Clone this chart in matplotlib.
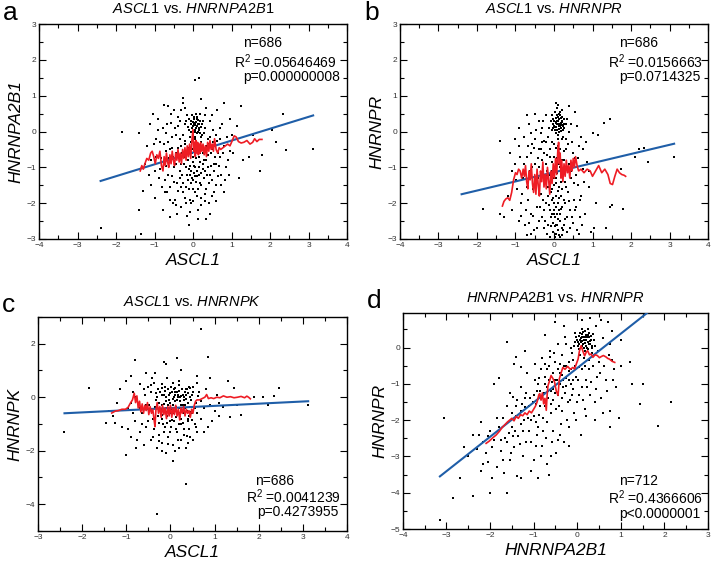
import matplotlib
matplotlib.use("Agg")
import matplotlib.pyplot as plt
import numpy as np
from matplotlib.ticker import MultipleLocator

plt.rcParams['font.family'] = ['Liberation Sans', 'DejaVu Sans']
plt.rcParams['mathtext.fontset'] = 'custom'
plt.rcParams['mathtext.rm'] = 'Liberation Sans'
plt.rcParams['mathtext.it'] = 'Liberation Sans:italic'

# ---- panel a : ASCL1 vs HNRNPA2B1 ----
pts_a = [(-2.4,-2.7),(-1.85,0.0),(-1.4,-0.05),(-1.4,-2.2),(-1.3,-1.65),(-1.35,-2.85),(1.25,0.7),(2.35,0.5),
         (2.15,-0.3),(2.42,-0.52),(3.12,-0.5),(1.45,-0.7),(1.75,-1.1),(1.8,-0.65),(1.55,-0.1),(2.05,0.05),
         (0.8,0.8),(0.2,0.9),(0.05,1.45),(0.15,1.5),(-0.25,0.95),(-0.65,0.72),(-0.75,0.75),(-0.1,-2.6),
         (-1.05,0.5),(-0.95,-0.7),(-1.0,-1.85),(-1.1,-1.5),(-0.9,0.35),(-0.85,-0.3),(-0.8,-1.55),(-0.78,-2.2),
         (-0.72,-1.7),(-0.7,-0.05),(-0.68,0.2),(-0.65,-1.2),(-0.6,-1.9),(-0.58,0.5),(-0.55,-0.45),(-0.52,-2.0),
         (-0.5,-1.4),(-0.48,0.1),(-0.45,-0.9),(-0.42,-2.3),(-0.4,0.4),(-0.38,-1.65),(-0.35,-0.2),(-0.33,-1.1),
         (-0.3,0.6),(-0.3,-2.1),(-0.28,-0.6),(-0.25,-1.45),(-0.22,0.2),(-0.2,-1.85),(-0.2,-0.35),(-0.18,-1.0),
         (-0.15,0.45),(-0.15,-2.35),(-0.12,-0.8),(-0.1,-1.6),(-0.1,0.05),(-0.08,-1.2),(-0.05,0.3),(-0.05,-2.0),
         (-0.03,-0.5),(0.0,0.15),(0.0,-1.35),(0.02,0.4),(0.03,-0.95),(0.05,0.25),(0.05,-1.7),(0.07,0.1),
         (0.08,-0.3),(0.1,0.35),(0.1,-1.1),(0.12,0.0),(0.13,-2.2),(0.15,0.2),(0.15,-0.7),(0.17,-1.45),
         (0.18,0.5),(0.2,-0.15),(0.22,-1.85),(0.25,0.3),(0.25,-0.9),(0.28,-1.3),(0.3,0.1),(0.3,-0.5),
         (0.33,-1.6),(0.35,0.65),(0.38,-0.2),(0.4,-1.0),(0.42,-2.0),(0.45,0.3),(0.48,-0.6),(0.5,-1.35),
         (0.52,0.05),(0.55,-1.7),(0.58,-0.35),(0.6,-0.9),(0.62,0.6),(0.65,-1.25),(0.7,-0.7),(0.72,-1.5),
         (0.75,0.2),(0.8,-0.4),(0.85,-1.0),(0.9,-0.8),(0.95,-0.55),(1.0,-0.1),(1.05,-0.6),(1.15,0.15),
         (1.2,-1.3),(1.3,-0.8),(-1.2,-0.4),(-1.25,-0.9),(-1.15,-1.2),(-0.95,-0.2),(-0.85,-1.05),(-0.62,-0.75),
         (-0.4,-0.45),(-0.25,0.8),(0.45,-2.3),(0.35,-2.45),
         (-0.05,0.0),(0.0,-0.1),(0.05,-0.2),(0.1,0.15),(0.08,0.28),(0.02,0.2),(-0.02,0.1),(0.12,0.22),
         (0.15,0.05),(0.18,0.3),(0.03,0.35),(0.06,0.18),(0.1,-0.05),(-0.08,-0.15),(-0.12,0.12),(0.2,0.12),
         (0.04,-0.4),(-0.03,-0.6),(0.08,-0.75),(0.13,-0.55),(-0.1,-0.45),(0.0,-0.85),(0.05,-1.0),(-0.05,-1.1),
         (0.1,-1.25),(0.02,-1.15),(-0.07,-0.95),(0.15,-1.0),(0.18,-0.85),(-0.15,-1.2),(-0.02,-1.3),(0.07,-1.4),
         (0.12,-1.6),(-0.12,-1.35),(0.2,-1.15),(-0.2,-0.7),(-0.25,-0.1),(-0.18,0.3),(0.22,-0.3),(0.25,-0.6),
         (-0.3,-0.9),(-0.35,-1.3),(0.3,-1.1),(0.28,-0.05),(-0.4,0.15),(-0.45,-0.6),(0.35,-0.8),(0.4,-0.35),
         (-0.5,-1.0),(-0.55,-0.15),(0.45,-1.2),(0.5,-0.5),(-0.6,-0.5),(0.55,-0.9),(-0.7,-0.95),(0.6,-0.1),
         (-0.75,-0.35),(0.65,-0.6),
         (-0.02,0.45),(0.06,0.05),(0.11,0.42),(0.16,0.1),(0.19,-0.05),(0.01,0.28),(-0.06,0.2),(0.09,0.5),
         (0.14,0.33),(0.23,0.2),(-0.1,0.35),(0.04,0.0),(-0.35,0.3),(-0.32,-0.4),(-0.28,-1.2),(-0.26,-1.7),
         (-0.23,-0.9),(-0.21,-0.25),(-0.17,-1.55),(-0.14,-0.55),(-0.11,-1.05),(-0.09,-1.9),(-0.06,-0.3),(-0.04,-1.45),
         (-0.01,-0.7),(0.01,-1.6),(0.04,-0.15),(0.06,-1.25),(0.09,-0.55),(0.11,-1.8),(0.14,-0.35),(0.16,-1.2),
         (0.19,-0.6),(0.21,-1.5),(0.24,-0.1),(0.26,-1.05),(0.29,-0.8),(0.31,-1.75),(0.34,-0.4),(0.36,-1.2),
         (0.39,-0.65),(0.41,-1.45),(0.44,-0.15),(0.46,-0.95),(0.49,-1.8),(0.51,-0.3),(0.54,-1.1),(0.57,-0.7),
         (0.59,-1.5),(0.63,-0.25),(0.67,-0.95),(0.69,0.1),(0.73,-1.2),(0.78,-0.6),(0.82,-1.35),(0.88,-0.15),
         (0.93,-1.2),(0.97,0.35),(-0.37,-0.7),(-0.41,-1.45),(-0.44,-0.1),(-0.47,-1.9),(-0.51,-0.7),(-0.54,-1.25),
         (-0.57,0.25),(-0.61,-1.55),(-0.64,-0.3),(-0.67,-1.7),(-0.71,-0.55),(-0.74,-1.35),(-0.77,0.1),(-0.82,-0.75),
         (-0.88,-1.3),(-0.92,0.05),(-0.98,-1.1),(-1.02,-0.35),(-1.08,-0.8),(-1.12,0.2),(-0.3,-1.55),(-0.18,-2.0),
         (0.0,-1.95),(0.2,-2.05),(-0.08,-2.25),(0.3,-1.95),(-0.6,-2.4),(0.6,-1.95),(-0.45,-2.05),(0.14,-2.45),
         (-0.2,0.65),(0.3,0.45),(0.5,0.45),(-0.5,0.6),(0.7,-0.2),(0.8,-1.7)]
red_a = [(-1.37,-1.1),(-1.33,-0.95),(-1.29,-1.05),(-1.25,-0.9),(-1.2,-0.75),(-1.15,-0.8),(-1.1,-0.6),(-1.06,-0.55),
         (-1.02,-0.7),(-0.98,-0.9),(-0.94,-0.65),(-0.9,-0.75),(-0.86,-0.55),(-0.82,-0.95),(-0.78,-1.1),(-0.75,-0.7),
         (-0.72,-0.95),(-0.69,-0.6),(-0.66,-0.85),(-0.63,-1.0),(-0.6,-0.65),(-0.57,-0.9),(-0.54,-0.55),(-0.51,-0.8),
         (-0.48,-0.95),(-0.45,-0.6),(-0.42,-0.8),(-0.39,-0.5),(-0.36,-0.85),(-0.33,-0.6),(-0.3,-0.9),(-0.27,-0.5),
         (-0.24,-0.75),(-0.21,-0.45),(-0.18,-0.8),(-0.15,-0.4),(-0.12,-0.7),(-0.09,-0.35),(-0.06,-0.75),(-0.03,-0.25),
         (0.0,0.05),(0.02,-0.55),(0.04,-0.3),(0.06,-0.7),(0.08,-0.25),(0.1,-0.6),(0.12,-0.3),(0.14,-0.65),
         (0.16,-0.35),(0.18,-0.6),(0.2,-0.3),(0.23,-0.55),(0.26,-0.35),(0.29,-0.65),(0.32,-0.4),(0.35,-0.7),
         (0.38,-0.3),(0.41,-0.55),(0.44,-0.25),(0.47,-0.5),(0.5,-0.35),(0.53,-0.55),(0.56,-0.2),(0.6,-0.5),
         (0.64,-0.6),(0.68,-0.45),(0.72,-0.5),(0.78,-0.45),(0.84,-0.4),(0.9,-0.35),(0.96,-0.4),(1.02,-0.25),
         (1.07,-0.12),(1.12,-0.15),(1.18,-0.28),(1.25,-0.32),(1.32,-0.3),(1.4,-0.25),(1.48,-0.35),(1.55,-0.3),
         (1.6,-0.2),(1.66,-0.28),(1.72,-0.22),(1.79,-0.22)]
fit_a_x = [-2.4, 3.12]
fit_a_y = [-1.38, 0.45]

# ---- panel b : ASCL1 vs HNRNPR ----
pts_b = [(-1.4,-0.25),(-1.85,-2.15),(-1.4,-2.3),(-1.3,-2.4),(-1.1,-1.1),(-0.9,0.1),(-0.7,0.45),(-0.5,0.5),
         (0.05,0.8),(0.1,0.75),(0.4,0.7),(1.0,-0.05),(1.15,-0.1),(1.3,0.25),(1.45,0.35),(2.1,-0.7),
         (2.2,-0.5),(2.35,-0.45),(2.45,-0.85),(3.12,-0.7),(1.05,-2.7),(1.35,-2.7),(1.45,-2.1),(1.5,-2.05),
         (1.8,-2.15),(1.75,-1.05),(0.95,-2.8),(0.65,-2.85),(1.1,-2.0),(0.9,-1.1),(0.75,-1.05),(-0.85,-2.35),
         (-0.7,-2.9),(-0.6,-2.85),
         (-1.0,-0.9),(-0.95,-1.6),(-0.9,-0.4),(-0.85,-2.0),(-0.8,-1.3),(-0.78,-0.15),(-0.75,-2.6),(-0.7,-0.7),
         (-0.68,-1.9),(-0.65,0.2),(-0.62,-1.1),(-0.6,-2.3),(-0.58,-0.35),(-0.55,-1.6),(-0.52,-2.75),(-0.5,-0.9),
         (-0.48,0.05),(-0.45,-2.1),(-0.42,-1.3),(-0.4,-0.5),(-0.38,-2.5),(-0.35,-0.05),(-0.33,-1.75),(-0.3,-0.8),
         (-0.28,0.3),(-0.25,-2.2),(-0.22,-1.2),(-0.2,-0.3),(-0.18,-2.85),(-0.15,-1.55),(-0.12,0.1),(-0.1,-0.7),
         (-0.08,-2.4),(-0.05,-1.9),(-0.03,0.35),(0.0,-1.3),(0.0,0.15),(0.02,-2.65),(0.04,0.25),(0.05,-0.45),
         (0.06,-2.1),(0.08,0.05),(0.1,-1.65),(0.1,0.4),(0.12,-2.9),(0.13,-0.9),(0.15,0.2),(0.16,-2.3),
         (0.18,-1.4),(0.2,0.3),(0.2,-2.7),(0.22,-0.2),(0.25,-1.9),(0.27,0.1),(0.28,-2.45),(0.3,-1.05),
         (0.32,-0.5),(0.35,-2.8),(0.37,-1.7),(0.4,0.0),(0.42,-2.2),(0.45,-1.3),(0.48,-0.3),(0.5,-2.55),
         (0.52,-1.9),(0.55,-0.75),(0.58,-2.1),(0.6,0.15),(0.62,-1.5),(0.65,-0.4),(0.68,-2.4),(0.7,-1.8),
         (0.75,-0.5),(0.8,-2.3),(0.85,-0.85),(-1.2,-1.8),(-1.15,-0.6),(-1.1,-2.2),(0.55,0.55),(0.9,-1.55),
         (0.02,0.05),(0.05,0.12),(0.08,0.3),(0.1,0.22),(0.12,0.08),(0.14,0.35),(0.16,0.15),(0.18,0.02),
         (0.2,0.18),(0.22,0.28),(0.04,0.38),(0.06,-0.05),(0.1,-0.1),(0.15,0.45),(0.18,0.25),(-0.02,0.22),
         (-0.05,0.05),(0.0,0.3),(0.12,0.5),(0.24,0.05),(0.26,0.22),(0.03,0.55),(-0.08,0.3),(0.2,0.6),
         (0.08,0.65),
         (-0.05,-1.1),(0.0,-1.5),(0.05,-1.8),(0.1,-2.0),(-0.1,-2.2),(0.02,-2.4),(0.08,-2.6),(-0.02,-2.8),
         (0.15,-2.5),(-0.15,-2.6),(0.12,-2.2),(-0.08,-1.7),(0.05,-1.3),(0.18,-1.8),(-0.2,-2.0),(0.22,-2.1),
         (-0.12,-1.4),(0.0,-2.0),(0.07,-2.3),(-0.03,-2.55),(0.25,-2.6),(-0.25,-2.7),(0.1,-2.75),(0.03,-2.95),
         (-0.06,-2.3),(0.14,-1.55),(0.2,-2.9),(-0.18,-1.1),(0.28,-1.4),(-0.3,-2.4),
         (-0.3,-0.3),(-0.2,-0.9),(-0.1,-0.5),(0.0,-0.7),(0.1,-0.4),(0.2,-0.8),(0.3,-0.2),(-0.4,-1.0),
         (0.4,-0.9),(-0.5,-0.2),(0.5,-0.6),(-0.6,-0.6),(0.15,-1.0),(-0.05,-0.3),(0.05,-0.95),(-0.15,-0.15),
         (0.25,-0.55),(-0.25,-0.6),
         (0.01,0.12),(0.07,0.2),(0.11,0.3),(0.13,0.15),(0.17,0.38),(0.19,0.1),(0.21,0.42),(0.23,0.15),
         (0.09,0.45),(0.14,0.0),(0.05,0.28),(-0.03,0.1),(0.27,0.35),(0.3,0.2),(0.11,-0.2),(0.24,-0.15),
         (-0.06,0.45),(0.16,0.55),(-0.35,-0.5),(-0.32,-1.2),(-0.28,-1.9),(-0.26,-0.25),(-0.23,-2.5),(-0.21,-1.45),
         (-0.17,-0.65),(-0.14,-2.05),(-0.11,-1.2),(-0.09,-2.65),(-0.06,-0.85),(-0.04,-1.6),(-0.01,-2.3),(0.01,-0.35),
         (0.04,-2.85),(0.06,-1.45),(0.09,-0.75),(0.11,-2.45),(0.14,-1.85),(0.16,-0.5),(0.19,-2.15),(0.21,-1.2),
         (0.24,-2.75),(0.26,-0.8),(0.29,-2.0),(0.31,-1.55),(0.34,-2.4),(0.36,-0.35),(0.39,-1.95),(0.41,-2.7),
         (0.44,-1.1),(0.46,-2.4),(0.49,-0.6),(0.51,-1.45),(0.54,-2.2),(0.57,-1.2),(0.59,-2.75),(0.63,-0.75),
         (0.67,-1.9),(0.69,-0.15),(0.73,-2.6),(0.78,-1.4),(0.82,-0.3),(-0.37,-2.1),(-0.41,-0.75),(-0.44,-2.7),
         (-0.47,-1.45),(-0.51,-0.45),(-0.54,-2.35),(-0.57,-1.0),(-0.61,-0.05),(-0.64,-2.55),(-0.67,-0.4),(-0.71,-1.55),
         (-0.74,-2.2),(-0.77,-0.9),(-0.82,-1.75),(-0.88,-0.7),(-0.92,-2.5),(-0.98,-1.35),(-1.02,-0.2),(-0.3,0.1),
         (-0.2,0.45),(-0.4,0.3),(0.35,0.35),(0.45,0.2),(0.0,-2.2),(0.15,-2.95),(-0.1,-2.95),(0.05,-2.6),
         (-0.15,-1.8),(0.2,-1.6),(0.07,-1.15),(-0.03,-1.85)]
red_b = [(-1.34,-2.08),(-1.3,-1.95),(-1.25,-1.88),(-1.2,-1.85),(-1.15,-1.92),(-1.1,-1.7),(-1.05,-1.35),(-1.0,-1.15),
         (-0.96,-1.2),(-0.92,-1.05),(-0.88,-1.1),(-0.84,-1.3),(-0.8,-1.05),(-0.77,-1.25),(-0.74,-0.95),(-0.71,-1.4),
         (-0.68,-1.6),(-0.65,-1.1),(-0.62,-1.35),(-0.59,-0.9),(-0.56,-1.45),(-0.53,-1.7),(-0.5,-1.2),(-0.47,-1.75),
         (-0.44,-1.05),(-0.41,-1.5),(-0.38,-1.8),(-0.35,-1.1),(-0.32,-1.4),(-0.29,-0.85),(-0.26,-1.55),(-0.23,-1.2),
         (-0.2,-1.6),(-0.17,-1.0),(-0.14,-1.35),(-0.11,-1.75),(-0.08,-1.1),(-0.05,-1.45),(-0.02,-0.9),(0.01,-1.3),
         (0.04,-0.75),(0.07,-1.2),(0.1,-0.5),(0.12,-0.3),(0.14,-0.9),(0.16,-0.6),(0.18,-1.3),(0.2,-0.8),
         (0.23,-1.4),(0.26,-0.9),(0.29,-1.25),(0.32,-0.8),(0.35,-1.15),(0.38,-0.95),(0.41,-1.3),(0.44,-0.8),
         (0.47,-1.1),(0.5,-0.75),(0.53,-1.0),(0.56,-0.7),(0.6,-0.95),(0.64,-1.1),(0.7,-1.05),(0.78,-1.15),
         (0.86,-1.05),(0.94,-1.1),(1.0,-1.25),(1.08,-1.1),(1.16,-0.95),(1.24,-1.15),(1.32,-1.05),(1.4,-1.2),
         (1.46,-1.45),(1.52,-1.48),(1.58,-1.25),(1.64,-1.05),(1.7,-1.15),(1.76,-1.2),(1.82,-1.22),(1.86,-1.25)]
fit_b_x = [-2.4, 3.12]
fit_b_y = [-1.75, -0.34]

# ---- panel c : ASCL1 vs HNRNPK ----
pts_c = [(-2.4,-1.3),(-1.85,0.35),(-1.45,-0.95),(-1.0,-2.15),(-0.8,1.4),(-0.15,1.3),(-0.1,1.25),(0.15,1.45),
         (0.7,2.55),(0.85,1.5),(1.3,0.6),(1.45,0.35),(2.45,0.35),(2.35,0.05),(2.2,-0.3),(3.12,-0.28),
         (2.1,0.0),(1.9,0.0),(1.6,-0.65),(1.35,-0.75),(1.1,-0.7),(0.05,-2.4),(0.35,-3.25),(-0.3,-4.35),
         (0.6,0.8),(-0.9,0.8),
         (-1.4,-0.5),(-1.3,-0.7),(-1.2,-0.2),(-1.15,0.3),(-1.1,-1.1),(-1.0,0.6),(-0.95,-0.4),(-0.9,-1.5),
         (-0.85,0.2),(-0.8,-0.9),(-0.78,-1.9),(-0.75,-0.1),(-0.7,0.5),(-0.68,-1.3),(-0.65,-0.6),(-0.6,-1.8),
         (-0.58,0.1),(-0.55,-1.1),(-0.5,0.4),(-0.48,-0.3),(-0.45,-1.6),(-0.42,0.7),(-0.4,-0.8),(-0.38,-1.2),
         (-0.35,0.9),(-0.32,-0.1),(-0.3,-1.9),(-0.28,0.3),(-0.25,-1.4),(-0.22,-0.6),(-0.2,0.5),(-0.18,-1.7),
         (-0.15,0.1),(-0.12,-1.1),(-0.1,-0.4),(-0.08,0.7),(-0.05,-1.5),(-0.02,-0.2),(0.0,-0.9),(0.02,0.4),
         (0.05,-1.8),(0.08,-0.5),(0.1,0.2),(0.12,-1.2),(0.15,-0.1),(0.18,-1.6),(0.2,0.6),(0.22,-0.7),
         (0.25,-1.0),(0.28,0.1),(0.3,-1.4),(0.32,-0.3),(0.35,-1.9),(0.38,0.3),(0.4,-0.9),(0.42,-1.2),
         (0.45,0.0),(0.48,-0.6),(0.5,-1.6),(0.52,0.4),(0.55,-1.0),(0.58,-0.2),(0.6,-1.3),(0.65,0.2),
         (0.7,-0.8),(0.75,-0.4),(0.8,0.3),(0.85,-1.1),(0.9,-0.3),(1.0,-0.5),(1.05,0.1),(1.2,-0.35),
         (1.5,-0.3),(-1.25,-0.95),(0.1,-2.0),(-0.2,-2.0),(0.45,-1.5),(0.9,0.7),(0.25,1.0),(-0.55,0.9),
         (-0.25,-0.2),(-0.2,0.1),(-0.15,-0.5),(-0.1,0.0),(-0.05,-0.3),(0.0,0.15),(0.05,-0.6),(0.1,-0.15),
         (0.15,0.2),(0.2,-0.4),(0.25,0.05),(0.3,-0.6),(0.35,-0.05),(0.4,0.15),(0.45,-0.35),(-0.28,-0.7),
         (-0.18,-0.8),(-0.08,-0.7),(0.02,-0.45),(0.12,-0.75),(0.22,-0.15),(0.32,0.2),(0.42,-0.7),(-0.12,0.25),
         (0.07,0.3),(0.18,0.0),(-0.03,-0.1),(0.28,-0.3),(0.38,-0.5),(-0.22,-0.45),(0.0,-0.6),(0.1,0.1),
         (0.2,0.25),(-0.1,-0.55),(0.3,0.0),(0.15,-0.55),(0.05,-0.05),(-0.15,-0.25),(0.25,-0.8),(0.35,0.3),
         (0.48,0.1),(-0.05,0.3),(0.12,-0.35),(0.22,-0.6),(-0.3,0.0),(0.4,-0.2),(0.03,-0.85),(-0.2,-0.65),
         (0.5,-0.5),(0.08,0.0),
         (-0.35,-0.35),(-0.33,0.15),(-0.27,-0.95),(-0.24,0.2),(-0.19,-0.3),(-0.16,-1.0),(-0.13,0.4),(-0.11,-0.15),
         (-0.07,-0.95),(-0.04,0.1),(-0.01,-0.4),(0.01,-1.1),(0.04,0.2),(0.06,-0.3),(0.09,-0.9),(0.11,0.35),
         (0.13,-0.5),(0.16,0.1),(0.19,-1.0),(0.21,0.0),(0.23,-0.3),(0.26,0.3),(0.29,-0.95),(0.31,-0.1),
         (0.34,-0.4),(0.36,0.1),(0.39,-0.8),(0.41,0.4),(0.44,-0.55),(0.46,-0.1),(0.49,-0.85),(0.52,0.2),
         (0.55,-0.4),(0.57,-1.1),(0.6,-0.6),(0.62,0.05),(-0.4,-1.5),(-0.45,0.2),(-0.5,-0.9),(-0.55,-0.3),
         (-0.6,0.3),(-0.65,-1.0),(-0.7,-0.4),(-0.75,-1.6),(-0.8,0.0),(-0.85,-0.6),(-0.9,-0.2),(-0.95,-1.2),
         (0.15,-1.3),(0.0,-1.3),(-0.15,-1.3),(0.3,-1.2),(0.25,-1.6),(-0.05,-1.75),(0.4,-1.7),(-0.25,-1.65),
         (0.6,0.55),(0.7,-0.15),(0.75,-1.3),(0.95,-0.9),(1.1,-0.2),(-0.45,0.45),(0.2,-1.9),(-0.1,-2.1),
         (0.38,-1.45),(-0.38,0.55),(0.05,0.55),(0.2,0.45),(-0.2,0.35),(0.45,0.35)]
red_c = [(-1.33,-0.59),(-1.25,-0.52),(-1.18,-0.5),(-1.1,-0.45),(-1.02,-0.45),(-0.96,-0.38),(-0.9,-0.2),(-0.86,-0.1),
         (-0.82,0.15),(-0.79,-0.2),(-0.76,0.05),(-0.73,-0.4),(-0.7,-0.15),(-0.67,-0.55),(-0.64,-0.25),(-0.61,-0.6),
         (-0.58,-0.3),(-0.55,-0.5),(-0.52,-0.2),(-0.49,-0.65),(-0.46,-0.35),(-0.43,-0.6),(-0.4,-0.45),(-0.37,-0.85),
         (-0.35,-1.1),(-0.33,-0.5),(-0.3,-0.2),(-0.27,-0.6),(-0.24,-0.35),(-0.21,-0.75),(-0.18,-0.3),(-0.15,-0.65),
         (-0.12,-0.4),(-0.09,-0.8),(-0.06,-0.35),(-0.03,-0.7),(0.0,-0.3),(0.03,-0.75),(0.06,-0.4),(0.09,-0.65),
         (0.12,-0.3),(0.15,-0.7),(0.18,-0.45),(0.21,-0.85),(0.24,-0.4),(0.27,-0.6),(0.3,-0.35),(0.33,-0.7),
         (0.36,-0.45),(0.39,-0.6),(0.42,-0.5),(0.45,-0.75),(0.48,-0.45),(0.51,-0.6),(0.54,-0.3),(0.57,-0.15),
         (0.6,-0.1),(0.66,-0.1),(0.72,-0.05),(0.78,0.0),(0.82,0.1),(0.86,-0.05),(0.92,-0.02),(0.98,-0.05),
         (1.05,0.0),(1.12,-0.02),(1.2,0.05),(1.28,0.0),(1.36,0.02),(1.44,-0.02),(1.52,0.0),(1.6,0.03),
         (1.68,-0.02),(1.73,0.04),(1.77,0.0),(1.81,-0.06)]
fit_c_x = [-2.4, 3.12]
fit_c_y = [-0.6, -0.15]

# ---- panel d : HNRNPA2B1 vs HNRNPR ----
pts_d = [(-3.15,-4.75),(-3.05,-1.95),(-2.85,-4.15),(-2.4,-4.1),(-2.7,-3.6),(-2.6,-2.75),(2.15,-1.5),(1.85,-2.15),
         (1.45,-1.55),(1.5,-1.0),(1.25,-1.0),(1.2,-0.4),(0.95,-1.95),(0.75,-1.75),(0.75,-2.2),(1.0,0.2),
         (0.8,-0.35),(-1.6,0.15),(-1.9,-1.0),(-1.8,-0.85),(-1.4,-0.25),(-1.3,-0.55),
         (-2.2,-2.05),(-2.15,-2.6),(-2.1,-2.9),(-2.05,-3.15),(-2.0,-2.3),(-1.95,-3.6),(-1.9,-2.55),(-1.85,-3.3),
         (-1.8,-2.2),(-1.75,-2.85),(-1.7,-1.95),(-1.68,-3.45),(-1.65,-2.5),(-1.6,-1.6),(-1.55,-3.1),(-1.5,-2.2),
         (-1.48,-1.35),(-1.45,-2.75),(-1.4,-1.9),(-1.38,-3.55),(-1.35,-2.45),(-1.3,-1.1),(-1.28,-2.1),(-1.25,-3.0),
         (-1.2,-1.65),(-1.18,-2.6),(-1.15,-0.7),(-1.1,-2.3),(-1.08,-1.4),(-1.05,-3.4),(-1.0,-1.9),(-0.98,-0.45),
         (-0.95,-2.7),(-0.92,-1.2),(-0.9,-2.2),(-0.88,-0.85),(-0.85,-1.6),(-0.82,-3.0),(-0.8,-0.3),(-0.78,-1.95),
         (-0.75,-1.0),(-0.72,-2.5),(-0.7,-0.6),(-0.68,-1.4),(-0.65,-3.5),(-0.62,-0.1),(-0.6,-1.8),(-0.58,-0.95),
         (-0.55,-2.3),(-0.52,-0.4),(-0.5,-1.25),(-0.48,-2.9),(-0.45,0.1),(-0.42,-1.6),(-0.4,-0.7),(-0.38,-2.1),
         (-0.35,-0.2),(-0.32,-1.1),(-0.3,-2.6),(-0.28,0.3),(-0.25,-0.5),(-0.22,-1.5),(-0.2,-0.9),(-0.18,-2.2),
         (-0.15,0.0),(-0.12,-1.3),(-0.1,-0.35),(-0.08,-1.8),(-0.05,0.4),(-0.02,-0.8),(0.0,-1.5),(0.02,0.15),
         (0.05,-0.55),(0.08,-2.4),(0.1,-1.1),(0.12,0.5),(0.15,-0.3),(0.18,-1.7),(0.2,-0.9),(0.25,0.35),
         (0.28,-0.6),(0.3,-1.3),(0.35,-0.15),(0.4,-2.0),(0.42,0.6),(0.45,-0.8),(0.5,-0.4),(0.55,-1.4),
         (0.6,0.25),(0.65,-0.9),(0.7,0.7),(0.72,-0.2),(0.8,0.45),(0.85,-0.6),(0.9,-1.1),(1.0,-0.5),
         (-2.4,-2.4),(-2.3,-2.8),(-2.5,-3.0),(-2.2,-3.4),(-1.6,-4.0),(-1.3,-3.6),(-0.9,-3.6),(-0.6,-3.0),
         (-2.0,-4.0),(-1.45,-0.45),(-1.2,-0.1),(-0.75,0.35),(-0.5,0.7),(-0.3,0.6),(0.1,0.75),(0.3,0.8),
         (0.55,0.75),
         (0.0,0.2),(0.05,0.1),(0.08,0.25),(0.1,0.05),(0.12,0.18),(0.15,0.3),(0.18,0.12),(0.2,0.22),
         (0.22,0.0),(0.25,0.15),(0.28,0.28),(0.3,0.1),(0.32,0.22),(0.35,0.05),(0.05,0.32),(0.1,0.38),
         (0.15,0.0),(0.2,0.35),(0.25,-0.05),(-0.05,0.15),(-0.08,0.05),(0.03,-0.05),(0.13,0.42),(0.27,0.4),
         (0.38,0.2),(0.18,-0.1),
         (-1.5,-1.8),(-1.4,-1.6),(-1.3,-1.75),(-1.2,-1.4),(-1.1,-1.6),(-1.0,-1.3),(-0.95,-1.55),(-0.9,-1.0),
         (-0.85,-1.2),(-0.8,-1.35),(-0.75,-0.8),(-0.7,-1.1),(-0.65,-0.9),(-0.6,-1.2),(-0.55,-0.7),(-0.5,-0.9),
         (-0.45,-0.6),(-0.4,-1.0),(-0.35,-0.75),(-0.3,-0.5),(-0.25,-0.85),(-0.2,-0.4),(-0.15,-0.6),(-0.1,-0.9),
         (-0.55,-1.15),(-0.65,-0.5),(-0.45,-1.3),(-0.35,-1.4),(-0.25,-1.05),(-0.15,-1.0),(-1.05,-2.0),(-1.25,-2.3),
         (-0.95,-2.05),(-0.75,-1.6),(-0.6,-1.55),
         (0.02,0.05),(0.06,0.22),(0.09,0.15),(0.11,0.3),(0.14,0.1),(0.16,0.22),(0.19,0.3),(0.21,0.05),
         (0.23,0.28),(0.26,0.1),(0.29,0.18),(0.31,0.32),(0.33,0.0),(0.07,0.4),(0.17,0.45),(0.24,0.5),
         (0.36,0.38),(-0.03,0.3),(0.12,0.05),(0.4,0.05),(-1.62,-2.6),(-1.57,-2.35),(-1.52,-2.9),(-1.47,-2.45),
         (-1.42,-2.3),(-1.37,-1.45),(-1.32,-2.65),(-1.27,-1.55),(-1.22,-2.0),(-1.17,-1.25),(-1.12,-1.95),(-1.07,-2.6),
         (-1.02,-1.5),(-0.97,-0.9),(-0.93,-2.4),(-0.87,-1.85),(-0.83,-0.6),(-0.79,-2.3),(-0.76,-1.25),(-0.73,-0.45),
         (-0.69,-2.05),(-0.66,-1.2),(-0.63,-0.25),(-0.59,-2.6),(-0.56,-1.45),(-0.53,-0.15),(-0.49,-1.7),(-0.46,-0.9),
         (-0.43,-2.55),(-0.39,-0.45),(-0.36,-1.75),(-0.33,-0.9),(-0.29,-1.25),(-0.26,0.1),(-0.23,-2.0),(-0.19,-0.65),
         (-0.16,-1.45),(-0.13,-0.15),(-0.09,-1.15),(-0.06,-0.5),(-0.03,-2.0),(0.01,-0.9),(0.04,-1.3),(0.07,-0.2),
         (0.1,-0.6),(0.14,-1.45),(0.17,-0.5),(0.22,-1.1),(0.26,-0.35),(0.32,-0.95),(0.37,-0.5),(0.43,-1.15),
         (0.48,-0.1),(0.53,-0.7),(0.58,-1.8),(0.62,-0.5),(0.68,-1.2),(0.75,0.1),(0.82,-0.9),(-1.75,-2.55),
         (-1.85,-1.95),(-1.95,-2.75),(-2.05,-2.45),(-2.15,-3.2),(-2.25,-2.4),(-1.7,-3.1),(-1.55,-1.25),(-1.0,-3.1),
         (-0.8,-2.7),(-0.7,-3.2),(-0.4,-2.4),(-0.2,-2.7),(0.2,-1.9),(0.4,-1.5)]
red_d = [(-2.09,-2.64),(-2.02,-2.58),(-1.95,-2.5),(-1.86,-2.41),(-1.78,-2.3),(-1.72,-2.2),(-1.67,-2.14),(-1.6,-2.05),
         (-1.55,-2.0),(-1.5,-1.95),(-1.45,-2.02),(-1.4,-1.9),(-1.35,-1.95),(-1.3,-1.85),(-1.25,-1.88),(-1.2,-1.8),
         (-1.15,-1.85),(-1.1,-1.75),(-1.05,-1.8),(-1.0,-1.7),(-0.96,-1.62),(-0.92,-1.5),(-0.88,-1.3),(-0.86,-1.27),
         (-0.83,-1.45),(-0.8,-1.25),(-0.77,-1.55),(-0.74,-1.4),(-0.71,-1.73),(-0.69,-1.3),(-0.67,-1.05),(-0.63,-0.9),
         (-0.6,-0.77),(-0.56,-0.85),(-0.52,-0.95),(-0.48,-1.2),(-0.44,-1.32),(-0.41,-0.86),(-0.37,-0.7),(-0.33,-0.55),
         (-0.28,-0.6),(-0.22,-0.52),(-0.16,-0.6),(-0.1,-0.55),(-0.06,-0.59),(-0.02,-0.45),(0.02,-0.32),(0.05,-0.1),
         (0.09,0.05),(0.13,-0.1),(0.17,-0.23),(0.21,-0.12),(0.24,-0.09),(0.28,-0.2),(0.32,-0.18),(0.36,-0.27),
         (0.41,-0.2),(0.46,-0.22),(0.51,-0.28),(0.55,-0.25),(0.6,-0.22),(0.66,-0.26),(0.7,-0.3),(0.74,-0.32),
         (0.8,-0.38),(0.86,-0.41)]
fit_d_x = [-3.15, 1.6]
fit_d_y = [-3.55, 0.95]

panels = [
    dict(letter='a', xname='ASCL1', yname='HNRNPA2B1', pts=pts_a, red=red_a, fx=fit_a_x, fy=fit_a_y,
         xlim=(-4, 4), ylim=(-3, 3), ystep=1,
         rect=[0.0547, 0.574, 0.432, 0.383],
         stats=['n=686', 'R$^2$ =0.05646469', 'p=0.000000008'],
         spos=[(0.662, 0.912), (0.633, 0.823), (0.662, 0.753)]),
    dict(letter='b', xname='ASCL1', yname='HNRNPR', pts=pts_b, red=red_b, fx=fit_b_x, fy=fit_b_y,
         xlim=(-4, 4), ylim=(-3, 3), ystep=1,
         rect=[0.561, 0.574, 0.432, 0.383],
         stats=['n=686', 'R$^2$ =0.0156663', 'p=0.0714325'],
         spos=[(0.711, 0.912), (0.675, 0.823), (0.711, 0.753)]),
    dict(letter='c', xname='ASCL1', yname='HNRNPK', pts=pts_c, red=red_c, fx=fit_c_x, fy=fit_c_y,
         xlim=(-3, 4), ylim=(-5, 3), ystep=2,
         rect=[0.0533, 0.0535, 0.4334, 0.3815],
         stats=['n=686', 'R$^2$ =0.0041239', 'p=0.4273955'],
         spos=[(0.702, 0.233), (0.673, 0.158), (0.709, 0.088)]),
    dict(letter='d', xname='HNRNPA2B1', yname='HNRNPR', pts=pts_d, red=red_d, fx=fit_d_x, fy=fit_d_y,
         xlim=(-4, 3), ylim=(-5, 0.95), ystep=1,
         rect=[0.565, 0.057, 0.428, 0.385],
         stats=['n=712', 'R$^2$ =0.4366606', 'p<0.0000001'],
         spos=[(0.708, 0.221), (0.672, 0.147), (0.708, 0.069)]),
]

fig = plt.figure(figsize=(7.13, 5.61), dpi=100)

for p in panels:
    ax = fig.add_axes(p['rect'])
    xy = np.array(p['pts'])
    ax.plot(xy[:, 0], xy[:, 1], 's', ms=2.0, mew=0, color='black', zorder=2)
    ax.plot(p['fx'], p['fy'], color='#1f5ea8', lw=1.5, zorder=3)
    rr = np.array(p['red'])
    ax.plot(rr[:, 0], rr[:, 1], color='#ee1c24', lw=1.2, zorder=4)

    ax.set_xlim(p['xlim'])
    ax.set_ylim(p['ylim'])
    ax.xaxis.set_major_locator(MultipleLocator(1))
    ax.xaxis.set_minor_locator(MultipleLocator(0.5))
    ax.yaxis.set_major_locator(MultipleLocator(p['ystep']))
    ax.yaxis.set_minor_locator(MultipleLocator(p['ystep'] / 2))
    ax.tick_params(which='both', direction='in', top=True, right=True, labelsize=6,
                   labelcolor='#333333', width=0.8, pad=2)
    ax.tick_params(which='major', length=5)
    ax.tick_params(which='minor', length=3)
    for s in ax.spines.values():
        s.set_linewidth(1.0)

    ax.set_xlabel(p['xname'], fontsize=12.5, style='italic', labelpad=3)
    ax.set_ylabel(p['yname'], fontsize=12.5, style='italic', labelpad=2)
    ax.set_title(r'$\mathit{' + p['xname'] + r'}$ vs. $\mathit{' + p['yname'] + '}$',
                 fontsize=10.5, pad=8)

    for txt, (tx, ty) in zip(p['stats'], p['spos']):
        ax.text(tx, ty, txt, transform=ax.transAxes, fontsize=10, va='center', ha='left')

    fig.text(p['rect'][0] - 0.05, p['rect'][1] + p['rect'][3] + 0.042, p['letter'],
             fontsize=19, ha='left', va='top')

fig.savefig('out.png', dpi=100)
